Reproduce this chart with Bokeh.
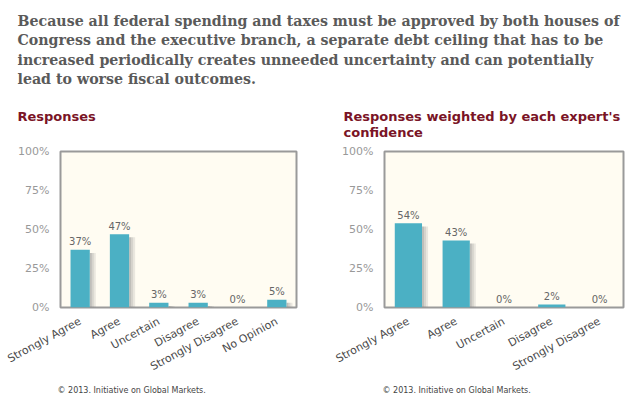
from bokeh.plotting import figure
from bokeh.layouts import column, row
from bokeh.models import FactorRange, Range1d, FixedTicker, ColumnDataSource
from bokeh.transform import dodge
from bokeh.core.properties import value
from bokeh.embed import file_html
from bokeh.resources import INLINE

# ---------------- data ----------------
heading_lines = [
    "Because all federal spending and taxes must be approved by both houses of",
    "Congress and the executive branch, a separate debt ceiling that has to be",
    "increased periodically creates unneeded uncertainty and can potentially",
    "lead to worse fiscal outcomes.",
]
left_title_lines = ["Responses"]
right_title_lines = ["Responses weighted by each expert's", "confidence"]

left_categories = ["Strongly Agree", "Agree", "Uncertain", "Disagree",
                   "Strongly Disagree", "No Opinion"]
left_values = [37, 47, 3, 3, 0, 5]

right_categories = ["Strongly Agree", "Agree", "Uncertain", "Disagree",
                    "Strongly Disagree"]
right_values = [54, 43, 0, 2, 0]

y_ticks = [0, 25, 50, 75, 100]
y_tick_labels = ["0%", "25%", "50%", "75%", "100%"]
copyright_text = "\u00a9 2013. Initiative on Global Markets."

# ---------------- style ----------------
SANS = "DejaVu Sans"
SERIF = "DejaVu Serif"
BAR = "#4bb0c4"
FRAME_BG = "#fffcf2"
TITLE_RED = "#7a1426"
PAGE_W = 642
HDR_H = 140
PANEL_H = 242
FTR_H = 12


def strip_fig(w, h):
    f = figure(width=w, height=h, x_range=Range1d(0, w), y_range=Range1d(h, 0),
               output_backend="svg", toolbar_location=None,
               x_axis_type=None, y_axis_type=None, min_border=0,
               outline_line_color=None, border_fill_color="white",
               background_fill_color="white")
    f.grid.visible = False
    return f


def panel(cats, vals, width, b_left, b_right, bar_frac):
    frame_w = width - b_left - b_right
    slot = frame_w / len(cats)
    src = ColumnDataSource(dict(
        cat=cats, val=vals, lab=[f"{v}%" for v in vals],
        stop=[max(v - 2, 0) for v in vals],
    ))
    p = figure(x_range=FactorRange(factors=cats), y_range=Range1d(0, 100),
               width=width, height=PANEL_H, output_backend="svg",
               toolbar_location=None,
               min_border_left=b_left, min_border_right=b_right,
               min_border_top=11, min_border_bottom=75,
               background_fill_color=FRAME_BG, border_fill_color="white",
               outline_line_color="#9a9a9a", outline_line_width=2)
    p.grid.visible = False
    # bar shadows (soft gradient on the right side)
    half = bar_frac / 2
    for i, a in enumerate([0.55, 0.35, 0.18]):
        off = half + (i + 0.5) * 2 / slot
        p.vbar(x=dodge("cat", off, range=p.x_range), top="stop", bottom=0,
               width=2 / slot, source=src, fill_color="#8a8a8a",
               fill_alpha=a, line_color=None)
    p.vbar(x="cat", top="val", bottom=0, width=bar_frac, source=src,
           fill_color=BAR, line_color=None)
    p.text(x="cat", y="val", text="lab", source=src, text_align="center",
           text_baseline="alphabetic", y_offset=-8,
           text_font=value(SANS), text_font_size="10px", text_color="#666666")

    p.yaxis.ticker = FixedTicker(ticks=y_ticks)
    p.yaxis.major_label_overrides = dict(zip(y_ticks, y_tick_labels))
    p.yaxis.axis_line_color = None
    p.yaxis.major_tick_line_color = None
    p.yaxis.major_tick_out = 0
    p.yaxis.major_tick_in = 0
    p.yaxis.minor_tick_line_color = None
    p.yaxis.major_label_standoff = 11
    p.yaxis.major_label_text_font = SANS
    p.yaxis.major_label_text_font_size = "11px"
    p.yaxis.major_label_text_color = "#999999"

    p.xaxis.axis_line_color = None
    p.xaxis.major_tick_line_color = None
    p.xaxis.major_tick_out = 0
    p.xaxis.major_tick_in = 0
    p.xaxis.major_label_orientation = 0.5
    p.xaxis.major_label_standoff = 13
    p.xaxis.major_label_text_font = SANS
    p.xaxis.major_label_text_font_size = "11px"
    p.xaxis.major_label_text_color = "#4a4a4a"
    return p


# header with question and panel titles
hdr = strip_fig(PAGE_W, HDR_H)
hdr.text(x=[17] * len(heading_lines),
         y=[20 + 19.5 * i for i in range(len(heading_lines))],
         text=heading_lines, text_font=value(SERIF), text_font_style="bold",
         text_font_size="14.2px", text_color="#5a5a5a", text_baseline="alphabetic")
hdr.text(x=[17] * len(left_title_lines),
         y=[115.7 + 16 * i for i in range(len(left_title_lines))],
         text=left_title_lines, text_font=value(SANS), text_font_style="bold",
         text_font_size="13px", text_color=TITLE_RED, text_baseline="alphabetic")
hdr.text(x=[343] * len(right_title_lines),
         y=[115.7 + 16 * i for i in range(len(right_title_lines))],
         text=right_title_lines, text_font=value(SANS), text_font_style="bold",
         text_font_size="13px", text_color=TITLE_RED, text_baseline="alphabetic")

left = panel(left_categories, left_values, 320, 60, 24, 0.49)
right = panel(right_categories, right_values, 322, 64, 19, 0.57)

ftr = strip_fig(PAGE_W, FTR_H)
ftr.text(x=[57, 382], y=[7.5, 7.5], text=[copyright_text, copyright_text],
         text_font=value(SANS), text_font_size="8px", text_color="#444444",
         text_baseline="alphabetic")

layout = column(hdr, row(left, right), ftr)
open("out.html", "w").write(file_html(layout, INLINE))
